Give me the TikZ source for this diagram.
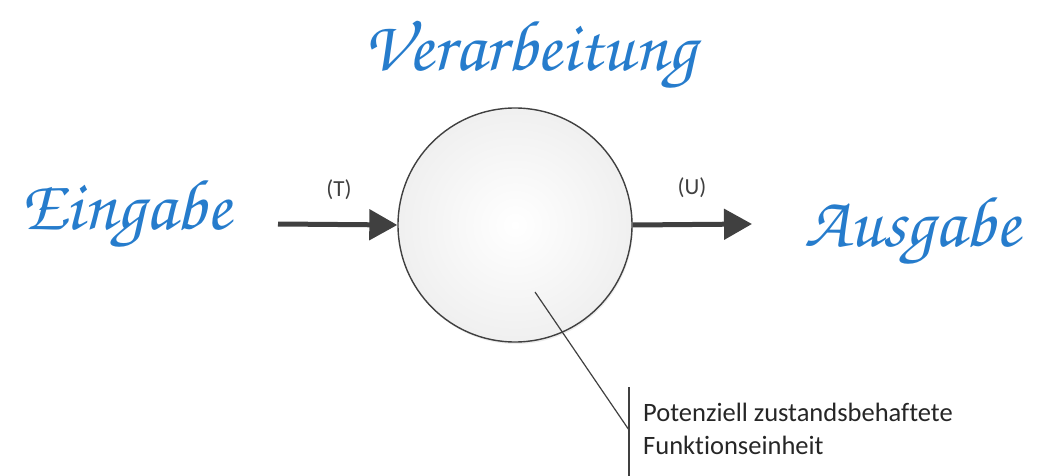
\documentclass[tikz,border=0pt]{standalone}
\usepackage[T1]{fontenc}
\usepackage{fontspec}
\setmainfont[Ligatures=NoCommon]{Carlito}
\usepackage{tikz}
\usetikzlibrary{arrows.meta}
\usetikzlibrary{shadows}
\usepackage{xcolor}
\definecolor{scriptblue}{RGB}{38,124,204}
\definecolor{linegray}{RGB}{64,64,64}
\newcommand{\handfont}{\fontencoding{T1}\fontfamily{pzc}\fontseries{mb}\fontshape{it}\selectfont}

\begin{document}
\begin{tikzpicture}[x=1pt, y=-1pt]
        % ================= 样式定义 =================
        \tikzset{
            procnode/.style={circle, draw=linegray, line width=1.4pt, minimum size=234pt, inner sep=0pt,
                inner color=white, outer color=gray!12,
                drop shadow={opacity=0.15, shadow xshift=1pt, shadow yshift=-2pt}},
            scriptlabel/.style={text=scriptblue, font=\handfont\fontsize{72}{80}\selectfont},
            flow_arrow/.style={line width=5pt, linegray, -{Triangle[length=28pt, width=30pt]}},
            flowlabel/.style={font=\fontsize{23}{26}\selectfont, text=linegray},
            callout_line/.style={line width=1.2pt, linegray}
        }
        \useasboundingbox (0,0) rectangle (1037,476);

        % ================= 处理单元 =================
        \node[procnode] (proc) at (515,225) {};

        % ================= 脚本文字 =================
        \node[scriptlabel] (ein) at (126,215) {Eingabe};
        \node[scriptlabel] (verarb) at (530,56) {Verarbeitung};
        \node[scriptlabel] (aus) at (912,232) {Ausgabe};

        % ================= 输入与输出箭头 =================
        \coordinate (inStart) at (278,224);
        \coordinate (outEnd) at (752,224);
        \draw[flow_arrow] (inStart) -- (proc.west);
        \draw[flow_arrow] (proc.east) -- (outEnd);
        \node[flowlabel] (tlab) at (339,190) {(T)};
        \node[flowlabel] (ulab) at (692,188) {(U)};

        % ================= 注释 =================
        \coordinate (calloutTip) at (535,292);
        \coordinate (barJoin) at (629,430);
        \coordinate (barTop) at (629,387);
        \coordinate (barBottom) at (629,476);
        \draw[callout_line] (calloutTip) -- (barJoin);
        \draw[callout_line] (barTop) -- (barBottom);
        \node[anchor=north west, align=left, inner sep=0pt, text=black!85,
              font=\fontsize{26.5}{33}\selectfont] (note) at (643,403)
              {Potenziell zustandsbehaftete\\Funktionseinheit};
\end{tikzpicture}
\end{document}
